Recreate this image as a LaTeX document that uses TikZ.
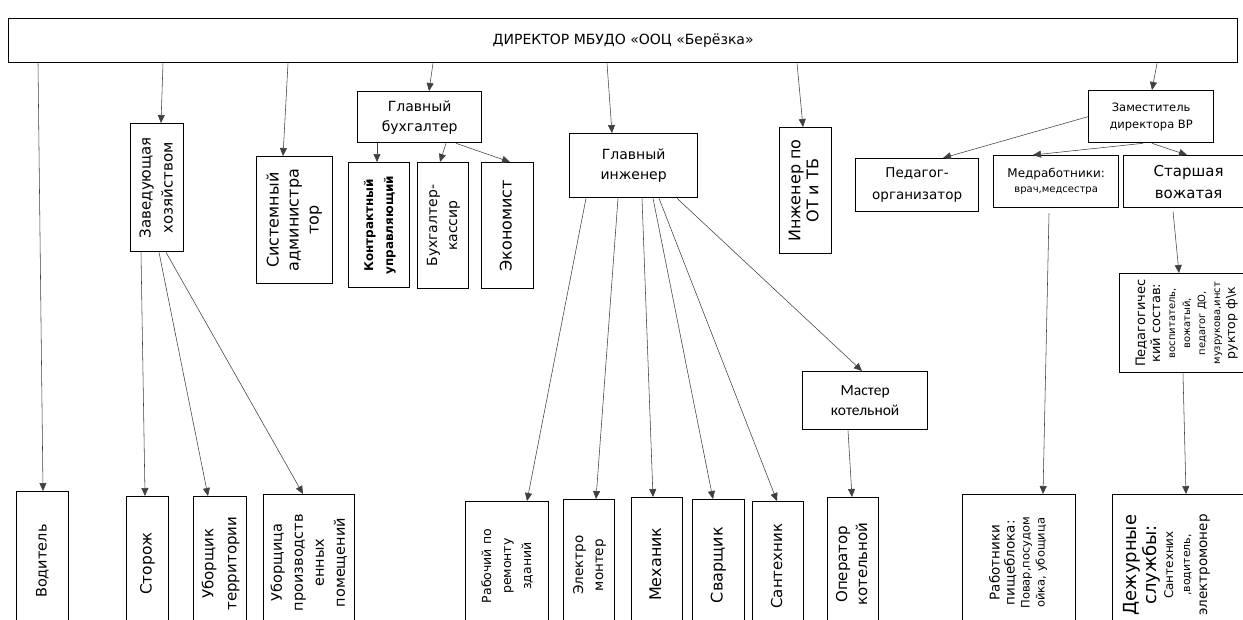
\documentclass[tikz,border=0pt]{standalone}
\usepackage{fontspec}
\setmainfont{DejaVu Sans}
\newfontfamily\calibfont{Carlito}
\usetikzlibrary{arrows.meta}
\newcommand{\fs}[2]{\fontsize{#1}{#2}\selectfont}
\newcommand{\rtext}[3]{\rotatebox{90}{\fs{#1}{#2}\begin{tabular}{@{}c@{}}#3\end{tabular}}}
\tikzset{
  post/.style={draw, line width=1.3pt, inner sep=0pt, anchor=north west, align=center},
  link/.style={draw=black!75, line width=0.55pt, -{Triangle[length=8pt,width=7pt]}}
}

\begin{document}
\begin{tikzpicture}[x=1pt,y=-1pt]
\useasboundingbox (0,0) rectangle (1243,619);
\fill[white] (0,0) rectangle (1243,619);
\clip (0,0) rectangle (1243,619);

% director
\node[post, minimum width=1229, minimum height=44, font=\fs{14}{16}] (dir) at (8,18) {ДИРЕКТОР МБУДО «ООЦ «Берёзка»};

% second level
\node[post, minimum width=53, minimum height=128] (zav) at (130,123) {\rtext{15}{22}{Заведующая\\хозяйством}};
\node[post, minimum width=76, minimum height=127] (sys) at (256,156) {\rtext{16}{20}{Системный\\администра\\тор}};
\node[post, minimum width=124, minimum height=51, font=\fs{14}{20}] (glb) at (357,91) {Главный\\бухгалтер};
\node[post, minimum width=128, minimum height=64, font=\fs{14}{20}] (gli) at (569,133) {Главный\\инженер};
\node[post, minimum width=52, minimum height=126] (ing) at (779,127) {\rtext{16}{18}{Инженер по\\ОТ и ТБ}};
\node[post, minimum width=125, minimum height=52, font=\fs{11.5}{17}] (zam) at (1088,90) {Заместитель\\директора ВР};

\node[post, minimum width=61, minimum height=125] (kon) at (348,162) {\rtext{12}{20}{\bfseries Контрактный\\\bfseries управляющий}};
\node[post, minimum width=51, minimum height=126] (kas) at (417,162) {\rtext{14}{20}{Бухгалтер-\\кассир}};
\node[post, minimum width=52, minimum height=126] (eko) at (481,162) {\rtext{16}{20}{Экономист}};

\node[post, minimum width=123, minimum height=53, font=\fs{13.5}{22}] (ped) at (855,158) {Педагог-\\организатор};
\node[post, minimum width=125, minimum height=52, font=\fs{12}{15}] (med) at (993,155) {Медработники:\\\fs{10}{15}врач,медсестра};
\node[post, minimum width=130, minimum height=52, font=\fs{15}{22}] (sta) at (1123,155) {Старшая\\вожатая};
\node[post, minimum width=135, minimum height=99] (pds) at (1119,273) {\rtext{10}{15}{\fs{13}{17}Педагогичес\\\fs{13}{17}кий состав:\\воспитатель,\\вожатый,\\педагог ДО,\\музрукова,инст\\\fs{12.5}{17}руктор ф\textbackslash к}};
\node[post, minimum width=125, minimum height=58, font=\calibfont\fs{15.5}{20}] (mas) at (802,371) {Мастер\\котельной};

% bottom row
\node[post, minimum width=52, minimum height=139] (vod) at (16,491) {\rtext{14.5}{20}{Водитель}};
\node[post, minimum width=42, minimum height=134] (sto) at (126,496) {\rtext{15.5}{20}{Сторож}};
\node[post, minimum width=53, minimum height=134] (ubt) at (193,496) {\rtext{15}{23}{Уборщик\\территории}};
\node[post, minimum width=91, minimum height=136] (ubp) at (263,494) {\rtext{14.5}{21}{Уборщица\\производств\\енных\\помещений}};
\node[post, minimum width=83, minimum height=129] (rab) at (465,501) {\rtext{12.5}{20}{Рабочий по\\ремонту\\зданий}};
\node[post, minimum width=51, minimum height=131] (ele) at (563,499) {\rtext{13.5}{20}{Электро\\монтер}};
\node[post, minimum width=51, minimum height=133] (mex) at (631,497) {\rtext{16}{20}{Механик}};
\node[post, minimum width=52, minimum height=131] (sva) at (692,499) {\rtext{16}{20}{Сварщик}};
\node[post, minimum width=51, minimum height=129] (san) at (752,501) {\rtext{15}{20}{Сантехник}};
\node[post, minimum width=51, minimum height=133] (opk) at (827,497) {\rtext{15}{20}{Оператор\\котельной}};
\node[post, minimum width=113, minimum height=136] (rpb) at (962,494) {\rtext{11.5}{15}{\fs{13.5}{18}Работники\\\fs{13.5}{18}пищеблока:\\Повар,посудом\\ойка, убощица}};
\node[post, minimum width=140, minimum height=136] (dez) at (1112,494) {};
\node (dezt) at (1168,565) {\rtext{11}{17}{\fs{18}{23}Дежурные\\\fs{18}{23}службы:\\\fs{12}{17}Сантехних\\,водитель,\\\fs{13.5}{17}электромонер}};

% links
\draw[link] ([xshift=30]dir.south west) -- ([xshift=27]vod.north west);
\draw[link] ([xshift=155]dir.south west) -- ([xshift=31]zav.north west);
\draw[link] ([xshift=280]dir.south west) -- ([xshift=27]sys.north west);
\draw[link] ([xshift=425]dir.south west) -- ([xshift=72]glb.north west);
\draw[link] ([xshift=599]dir.south west) -- ([xshift=43]gli.north west);
\draw[link] ([xshift=789]dir.south west) -- ([xshift=24]ing.north west);
\draw[link] ([xshift=1149]dir.south west) -- ([xshift=64]zam.north west);

\draw[link] ([xshift=20]glb.south west) -- ([xshift=29]kon.north west);
\draw[link] ([xshift=89]glb.south west) -- ([xshift=23]kas.north west);
\draw[link] ([xshift=99]glb.south west) -- ([xshift=29]eko.north west);

\foreach \s/\t/\e in {11/sto/19, 29/ubt/15, 36/ubp/40}
  \draw[link] ([xshift=\s]zav.south west) -- ([xshift=\e]\t.north west);
\foreach \s/\t/\e in {17/rab/62, 49/ele/33, 73/mex/22, 84/sva/21, 90/san/25, 108/mas/60}
  \draw[link] ([xshift=\s]gli.south west) -- ([xshift=\e]\t.north west);
\draw[link] ([xshift=46]mas.south west) -- ([xshift=25]opk.north west);

\draw[link] (zam.west) -- ([xshift=88]ped.north west);
\draw[link] ([xshift=55]zam.south west) -- ([xshift=40]med.north west);
\draw[link] ([xshift=64]zam.south west) -- ([xshift=64]sta.north west);
\draw[link] ([xshift=56,yshift=-5]med.south west) -- ([xshift=81]rpb.north west);
\draw[link] ([xshift=50,yshift=-3]sta.south west) -- ([xshift=60]pds.north west);
\draw[link] ([xshift=64]pds.south west) -- ([xshift=74]dez.north west);
\end{tikzpicture}
\end{document}
